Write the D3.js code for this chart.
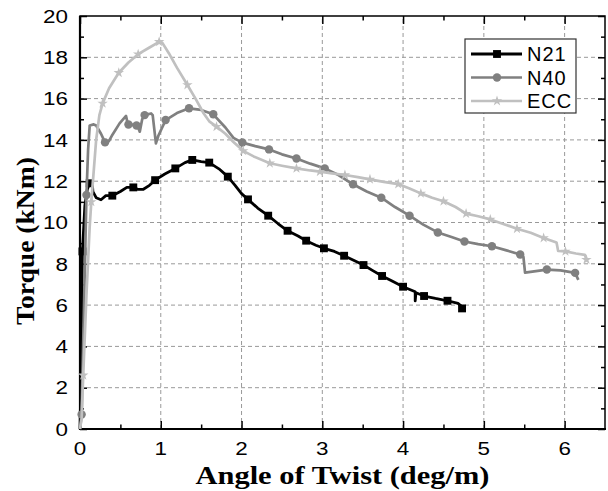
<!DOCTYPE html>
<html>
<head>
<meta charset="utf-8">
<script src="https://cdn.jsdelivr.net/npm/d3@7/dist/d3.min.js"></script>
<style>
  html, body { margin: 0; padding: 0; background: #fff; }
  svg { display: block; }
</style>
</head>
<body>
<svg id="chart" width="608" height="491"></svg>
<script>
// ---- data ----
const seriesNames = ["N21", "N40", "ECC"];
const xTicks = [0, 1, 2, 3, 4, 5, 6];
const yTicks = [0, 2, 4, 6, 8, 10, 12, 14, 16, 18, 20];
const xTitle = "Angle of Twist (deg/m)";
const yTitle = "Torque (kNm)";

const n21Line = [[0,0],[0.01,2],[0.03,8.6],[0.06,10.8],[0.09,11.6],[0.12,11.9],[0.15,12.0],[0.16,11.5],[0.2,11.2],[0.26,11.1],[0.32,11.3],[0.4,11.3],[0.5,11.5],[0.58,11.7],[0.66,11.7],[0.72,11.6],[0.78,11.6],[0.86,11.8],[0.93,12.05],[1.05,12.35],[1.18,12.62],[1.3,12.9],[1.39,13.03],[1.5,12.95],[1.6,12.9],[1.72,12.6],[1.83,12.22],[1.92,11.8],[2.0,11.4],[2.08,11.12],[2.2,10.7],[2.33,10.33],[2.45,9.95],[2.57,9.6],[2.7,9.35],[2.8,9.12],[2.92,8.9],[3.02,8.75],[3.15,8.6],[3.27,8.39],[3.4,8.15],[3.51,7.94],[3.62,7.68],[3.74,7.41],[3.87,7.15],[4.0,6.89],[4.15,6.65],[4.15,6.2],[4.16,6.6],[4.26,6.44],[4.4,6.32],[4.55,6.21],[4.68,6.08],[4.72,5.95],[4.73,5.84]];
const n21Marks = [[0.03,8.6],[0.12,11.9],[0.4,11.3],[0.66,11.7],[0.93,12.05],[1.18,12.62],[1.39,13.03],[1.6,12.9],[1.83,12.22],[2.08,11.12],[2.33,10.33],[2.57,9.6],[2.8,9.12],[3.02,8.75],[3.27,8.39],[3.51,7.94],[3.74,7.41],[4.0,6.89],[4.26,6.44],[4.55,6.21],[4.73,5.84]];

const n40Line = [[0,0],[0.02,0.7],[0.05,6],[0.08,11.33],[0.1,13.5],[0.12,14.7],[0.17,14.75],[0.2,14.7],[0.26,14.3],[0.31,13.88],[0.36,13.95],[0.4,14.24],[0.49,14.8],[0.57,15.16],[0.59,14.8],[0.64,14.75],[0.68,14.65],[0.71,14.7],[0.74,14.4],[0.77,15.0],[0.8,15.2],[0.88,15.28],[0.9,15.2],[0.94,13.83],[0.97,14.2],[1.06,14.96],[1.2,15.3],[1.35,15.53],[1.5,15.45],[1.65,15.24],[1.8,14.6],[1.9,14.1],[2.01,13.87],[2.17,13.7],[2.34,13.54],[2.5,13.3],[2.68,13.1],[2.85,12.85],[3.03,12.62],[3.2,12.3],[3.38,11.85],[3.55,11.5],[3.73,11.2],[3.9,10.75],[4.08,10.33],[4.25,9.9],[4.43,9.52],[4.6,9.3],[4.76,9.08],[4.93,8.95],[5.1,8.85],[5.28,8.65],[5.45,8.45],[5.49,8.34],[5.51,7.57],[5.6,7.62],[5.78,7.72],[5.95,7.68],[6.13,7.56],[6.17,7.22]];
const n40Marks = [[0.02,0.7],[0.08,11.33],[0.31,13.88],[0.6,14.75],[0.7,14.7],[0.8,15.2],[1.06,14.96],[1.35,15.53],[1.65,15.24],[2.01,13.87],[2.34,13.54],[2.68,13.1],[3.03,12.62],[3.38,11.85],[3.73,11.2],[4.08,10.33],[4.43,9.52],[4.76,9.08],[5.1,8.85],[5.45,8.45],[5.78,7.72],[6.13,7.56]];

const eccLine = [[0,0],[0.02,0.5],[0.04,2.6],[0.08,6.5],[0.12,9.8],[0.14,11.0],[0.17,12.5],[0.2,14.0],[0.24,15.2],[0.28,15.77],[0.36,16.5],[0.48,17.25],[0.6,17.75],[0.72,18.15],[0.85,18.45],[0.98,18.75],[1.02,18.7],[1.1,18.2],[1.2,17.5],[1.33,16.66],[1.43,16.0],[1.53,15.29],[1.6,14.9],[1.69,14.64],[1.8,14.3],[1.9,13.9],[2.02,13.47],[2.15,13.2],[2.35,12.87],[2.5,12.75],[2.68,12.62],[2.85,12.52],[2.97,12.46],[3.12,12.38],[3.28,12.3],[3.44,12.2],[3.59,12.09],[3.76,11.97],[3.94,11.86],[4.08,11.65],[4.22,11.41],[4.36,11.2],[4.5,11.03],[4.65,10.75],[4.78,10.43],[4.93,10.3],[5.08,10.15],[5.25,9.92],[5.41,9.7],[5.58,9.5],[5.74,9.25],[5.9,9.03],[5.92,8.62],[6.01,8.6],[6.14,8.5],[6.25,8.43],[6.27,8.2]];
const eccMarks = [[0.04,2.6],[0.14,11.0],[0.28,15.77],[0.48,17.25],[0.72,18.15],[0.98,18.75],[1.33,16.66],[1.69,14.64],[2.02,13.47],[2.35,12.87],[2.68,12.62],[2.97,12.46],[3.28,12.3],[3.59,12.09],[3.94,11.86],[4.22,11.41],[4.5,11.03],[4.78,10.43],[5.08,10.15],[5.41,9.7],[5.74,9.25],[6.01,8.6],[6.27,8.2]];

// ---- layout ----
const svg = d3.select("#chart");
const L = 80, R = 605, T = 16, B = 429;
const x = d3.scaleLinear().domain([0, 6.5]).range([L, R]);
const y = d3.scaleLinear().domain([0, 20]).range([B, T]);

const series = [
  { name: seriesNames[0], line: n21Line, marks: n21Marks, color: "#000000", width: 2.8, symbol: d3.symbolSquare, size: 62 },
  { name: seriesNames[1], line: n40Line, marks: n40Marks, color: "#808080", width: 2.7, symbol: d3.symbolCircle, size: 56 },
  { name: seriesNames[2], line: eccLine, marks: eccMarks, color: "#c0c0c0", width: 2.7, symbol: d3.symbolStar, size: 34 }
];

// grid
const grid = svg.append("g").attr("stroke", "#999").attr("stroke-width", 1).attr("stroke-dasharray", "4,3");
xTicks.filter(v => v > 0).forEach(v => {
  grid.append("line").attr("x1", x(v)).attr("x2", x(v)).attr("y1", B).attr("y2", T);
});
yTicks.filter(v => v > 0 && v < 20).forEach(v => {
  grid.append("line").attr("x1", L).attr("x2", R).attr("y1", y(v)).attr("y2", y(v));
});

// axes with inside ticks (all four sides)
const xMinor = d3.range(0.5, 6.5, 1);
const yMinor = d3.range(1, 20, 2);
function addAxis(axisGen, tx, ty) {
  const g = svg.append("g").attr("transform", `translate(${tx},${ty})`).call(axisGen);
  g.select(".domain").remove();
  g.selectAll("line").attr("stroke", "#000").attr("stroke-width", 1.5);
  g.selectAll("text").remove();
  return g;
}
addAxis(d3.axisBottom(x).tickValues(xTicks).tickSize(-8), 0, B);
addAxis(d3.axisBottom(x).tickValues(xMinor).tickSize(-4.5), 0, B);
addAxis(d3.axisTop(x).tickValues(xTicks).tickSize(-8), 0, T);
addAxis(d3.axisTop(x).tickValues(xMinor).tickSize(-4.5), 0, T);
addAxis(d3.axisLeft(y).tickValues(yTicks).tickSize(-7), L, 0);
addAxis(d3.axisLeft(y).tickValues(yMinor).tickSize(-4), L, 0);
addAxis(d3.axisRight(y).tickValues(yTicks).tickSize(-7), R, 0);
addAxis(d3.axisRight(y).tickValues(yMinor).tickSize(-4), R, 0);

// frame
svg.append("rect").attr("x", L).attr("y", T).attr("width", R - L).attr("height", B - T)
  .attr("fill", "none").attr("stroke", "#000").attr("stroke-width", 1.5);
svg.append("line").attr("x1", L - 1).attr("x2", R + 1).attr("y1", B).attr("y2", B).attr("stroke", "#000").attr("stroke-width", 2.2);
svg.append("line").attr("x1", L).attr("x2", L).attr("y1", T).attr("y2", B + 1).attr("stroke", "#000").attr("stroke-width", 2.2);

// tick labels
const tickFont = "'Liberation Sans', Arial, sans-serif";
xTicks.forEach(v => {
  svg.append("text").attr("transform", `translate(${x(v)},455) scale(1.18,1)`)
    .attr("text-anchor", "middle").attr("font-family", tickFont).attr("font-size", 19)
    .attr("fill", "#000").text(v);
});
yTicks.forEach(v => {
  svg.append("text").attr("transform", `translate(68,${y(v) + 6.7}) scale(1.18,1)`)
    .attr("text-anchor", "end").attr("font-family", tickFont).attr("font-size", 19)
    .attr("fill", "#000").text(v);
});

// axis titles
const titleFont = "'Liberation Serif', 'Times New Roman', serif";
svg.append("text").attr("x", (L + R) / 2).attr("y", 484).attr("text-anchor", "middle")
  .attr("font-family", titleFont).attr("font-weight", "bold").attr("font-size", 25)
  .attr("textLength", 294).attr("lengthAdjust", "spacingAndGlyphs").text(xTitle);
svg.append("text").attr("transform", "translate(34,241) rotate(-90)").attr("text-anchor", "middle")
  .attr("font-family", titleFont).attr("font-weight", "bold").attr("font-size", 25)
  .attr("textLength", 168).attr("lengthAdjust", "spacingAndGlyphs").text(yTitle);

// series
const lineGen = d3.line().x(d => x(d[0])).y(d => y(d[1]));
const plot = svg.append("g");
series.forEach(s => {
  plot.append("path").datum(s.line).attr("d", lineGen).attr("fill", "none")
    .attr("stroke", s.color).attr("stroke-width", s.width).attr("stroke-linejoin", "round");
  plot.selectAll(null).data(s.marks).enter().append("path")
    .attr("d", d3.symbol().type(s.symbol).size(s.size))
    .attr("transform", d => `translate(${x(d[0])},${y(d[1])})`)
    .attr("fill", s.color);
});

// legend
const lg = svg.append("g");
lg.append("rect").attr("x", 465).attr("y", 39).attr("width", 111).attr("height", 74)
  .attr("fill", "#fff").attr("stroke", "#333").attr("stroke-width", 1.2);
series.forEach((s, i) => {
  const cy = 54 + i * 23.5;
  lg.append("line").attr("x1", 471).attr("x2", 522).attr("y1", cy).attr("y2", cy)
    .attr("stroke", s.color).attr("stroke-width", s.width);
  lg.append("path").attr("d", d3.symbol().type(s.symbol).size(s.size))
    .attr("transform", `translate(497,${cy})`).attr("fill", s.color);
  lg.append("text").attr("x", 527).attr("y", cy + 7).attr("font-family", tickFont)
    .attr("font-size", 20).attr("letter-spacing", 1).attr("fill", "#000").text(s.name);
});
</script>
</body>
</html>
